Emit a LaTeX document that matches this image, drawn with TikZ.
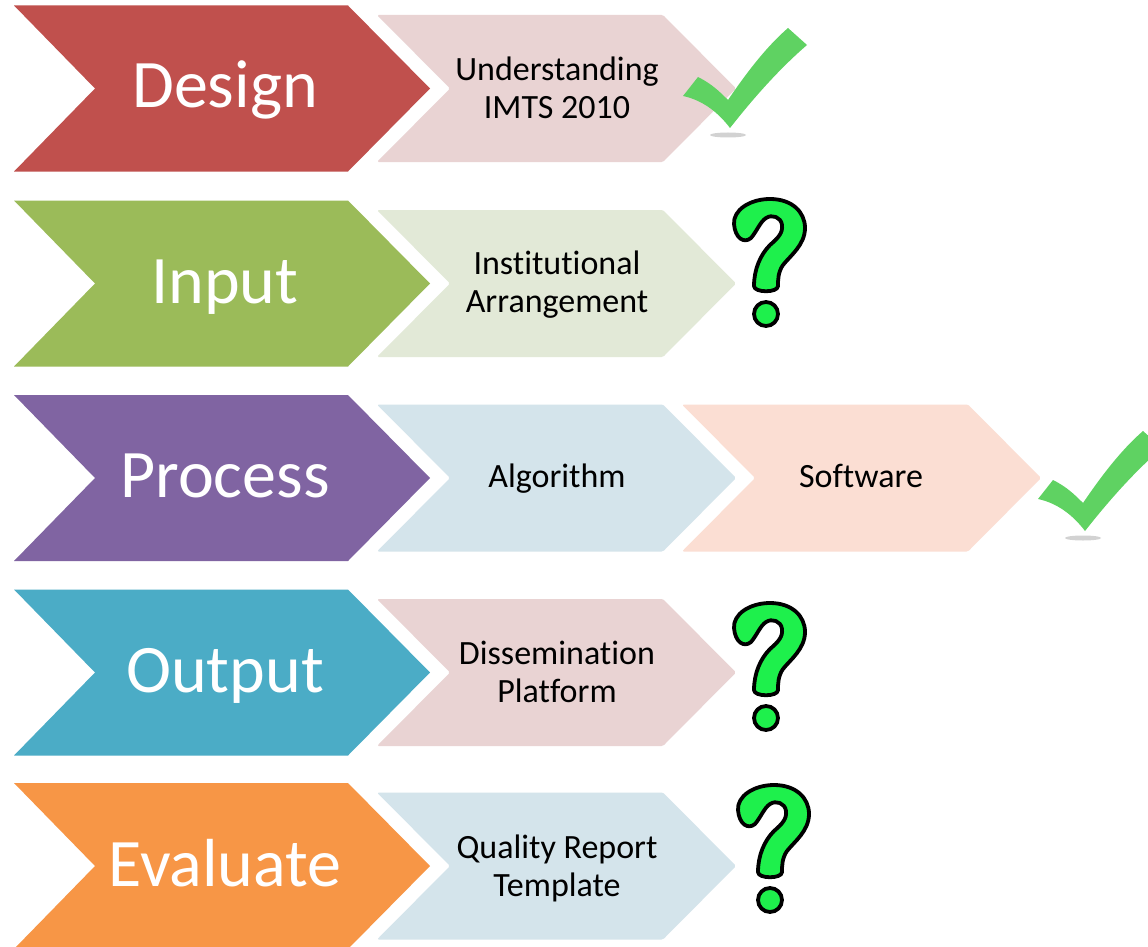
\documentclass[tikz,border=0pt]{standalone}
\usepackage{fontspec}
\setmainfont{Carlito}[Ligatures=NoCommon]
\definecolor{cDesign}{HTML}{C0504D}
\definecolor{cInput}{HTML}{9BBB59}
\definecolor{cProcess}{HTML}{8064A2}
\definecolor{cOutput}{HTML}{4BACC6}
\definecolor{cEval}{HTML}{F79646}
\definecolor{lRed}{HTML}{E9D3D3}
\definecolor{lGreen}{HTML}{E2E9D7}
\definecolor{lBlue}{HTML}{D4E4EB}
\definecolor{lPeach}{HTML}{FBDED3}
\definecolor{chk}{HTML}{5FD262}
\definecolor{qgreen}{HTML}{1EF04C}
\newcommand\darkchev[2]{%
  \fill[#2] (14,#1-83) -- (348,#1-83) -- (430,#1) -- (348,#1+83) -- (14,#1+83) -- (95,#1) -- cycle;}
\newcommand\lightchev[3]{%
  \fill[#3, rounded corners=1.5] (#1,#2-73.5) -- (#1+286,#2-73.5) -- (#1+359,#2) -- (#1+286,#2+73.5) -- (#1,#2+73.5) -- (#1+73,#2) -- cycle;}
\newcommand\checkmk[2]{%
  \begin{scope}[shift={(#1,#2)}]
    \fill[gray!35] (728,135) ellipse [x radius=18, y radius=2.5];
    \fill[chk] (683,96) -- (698,77) .. controls (712,84) and (720,92) .. (728,100)
      .. controls (745,75) and (765,48) .. (788,28) -- (807,45)
      .. controls (778,70) and (752,100) .. (730,128)
      .. controls (718,112) and (702,100) .. (683,96) -- cycle;
  \end{scope}}
\newcommand\qmark[3]{%
  \begin{scope}[shift={(#1,#2)}, yscale=#3]
    \filldraw[fill=qgreen, draw=black, line width=3.8, line join=round]
      (734,224) .. controls (733,210) and (750,199) .. (770,199)
      .. controls (792,199) and (805,212) .. (805,228)
      .. controls (805,245) and (790,256) .. (783,265)
      .. controls (778,272) and (778,280) .. (778,286)
      .. controls (778,293) and (754,293) .. (754,286)
      .. controls (754,270) and (760,255) .. (770,245)
      .. controls (778,238) and (783,233) .. (782,225)
      .. controls (781,217) and (772,214) .. (766,218)
      .. controls (760,222) and (757,231) .. (751,238)
      .. controls (744,244) and (735,238) .. (734,224) -- cycle;
    \filldraw[fill=qgreen, draw=black, line width=3.8] (766,314) circle [radius=12];
  \end{scope}}
\tikzset{
  big/.style={text=white, font=\fontsize{68}{80}\selectfont, anchor=base, inner sep=0pt},
  small/.style={text=black, font=\fontsize{34}{38}\selectfont, align=center, inner sep=0pt}
}
\begin{document}
\begin{tikzpicture}[x=1pt, y=-1pt]
\useasboundingbox (0,0) rectangle (1148,947);
\fill[white] (0,0) rectangle (1148,947);
% rows
\darkchev{88.5}{cDesign}
\darkchev{283.5}{cInput}
\darkchev{478}{cProcess}
\darkchev{672.5}{cOutput}
\darkchev{866}{cEval}
\lightchev{377}{88.5}{lRed}
\lightchev{377}{283.5}{lGreen}
\lightchev{377}{478}{lBlue}
\lightchev{682}{478}{lPeach}
\lightchev{377}{672.5}{lRed}
\lightchev{377}{866}{lBlue}
% labels
\node[big] (desg) at (225,108) {Design};
\node[big] (inp) at (225,303) {Input};
\node[big] (proc) at (225,497.5) {Process};
\node[big] (outp) at (225,692) {Output};
\node[big] (eval) at (225,886) {Evaluate};
\node[small] (und) at (557,88) {Understanding\\IMTS 2010};
\node[small] (inst) at (557,285) {Institutional\\Arrangement};
\node[small, text height=23pt, text depth=7pt] (algo) at (557,479) {Algorithm};
\node[small, text height=23pt, text depth=7pt] (soft) at (861,479) {Software};
\node[small] (diss) at (557,672) {Dissemination\\Platform};
\node[small] (qual) at (557,868) {Quality Report\\Template};
% marks
\checkmk{0}{0}
\checkmk{355}{403}
\qmark{0}{0}{1}
\qmark{0}{404}{1}
\qmark{4}{586}{1}
\end{tikzpicture}
\end{document}
